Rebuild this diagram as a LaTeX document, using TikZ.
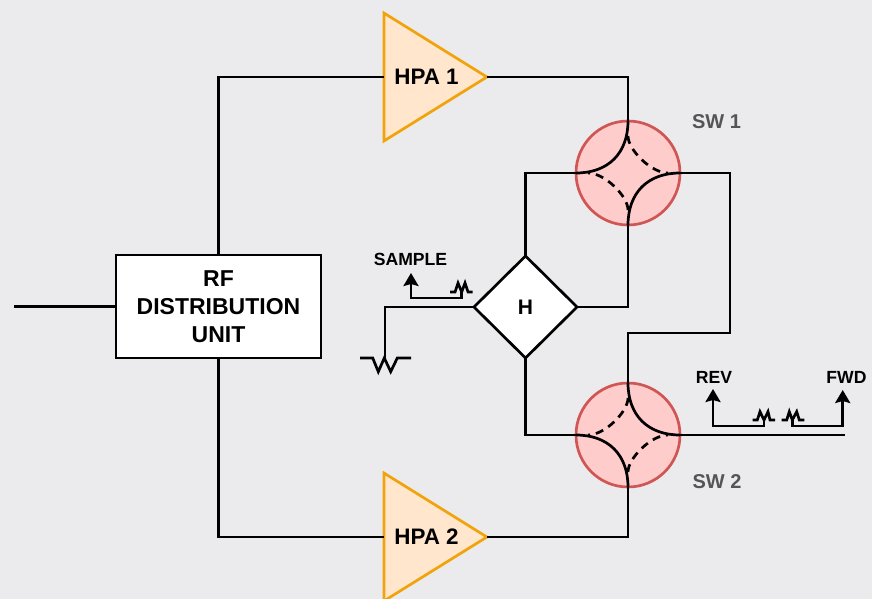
\documentclass[tikz,border=0pt]{standalone}
\usepackage{fontspec}
\setmainfont{Liberation Sans}
\usetikzlibrary{shapes.geometric,arrows.meta}
\definecolor{pagebg}{HTML}{EBEBEE}
\definecolor{hpafill}{HTML}{FFE6CC}
\definecolor{hpaline}{HTML}{F0A30A}
\definecolor{swfill}{HTML}{FFCCCC}
\definecolor{swline}{HTML}{D05555}
\definecolor{swtext}{HTML}{555555}
\tikzset{
  wire/.style={line width=2.7pt,line join=miter},
  tipwire/.style={wire,-{Stealth[length=13pt,width=15pt,inset=2pt]}},
  swarc/.style={wire,looseness=1.12},
  dashwire/.style={line width=2.7pt,dash pattern=on 8pt off 6pt,shorten >=12pt,shorten <=15pt},
  rfbox/.style={draw=black,fill=white,line width=2.7pt,minimum width=205pt,minimum height=103pt,
    inner sep=0pt,outer sep=0pt,align=center,font=\bfseries\fontsize{23}{28}\selectfont},
  hpatri/.style={draw=hpaline,fill=hpafill,line width=2.7pt,isosceles triangle,
    isosceles triangle apex angle=63.7,isosceles triangle stretches,
    minimum width=128pt,minimum height=103pt,inner sep=0pt,outer sep=0pt},
  swcircle/.style={circle,draw=swline,fill=swfill,line width=2.7pt,minimum size=104pt,inner sep=0pt,outer sep=0pt},
  hybrid/.style={diamond,draw=black,fill=white,line width=2.7pt,minimum width=103pt,minimum height=102pt,
    inner sep=0pt,outer sep=0pt,font=\bfseries\fontsize{21}{24}\selectfont},
  hpalbl/.style={font=\bfseries\fontsize{22.4}{24}\selectfont},
  smalllbl/.style={font=\bfseries\fontsize{17.6}{18}\selectfont},
  swlbl/.style={text=swtext,font=\bfseries\fontsize{20}{22}\selectfont},
}
\begin{document}
\begin{tikzpicture}[x=1pt,y=-1pt]
  \useasboundingbox[fill=pagebg] (0,0) rectangle (872,599);

  \node[rfbox] (rfunit) at (218.5,306.5) {RF\\DISTRIBUTION\\UNIT};
  \node[hpatri] (hpa1) at (419.5,77) {};
  \node[hpatri] (hpa2) at (419.5,537) {};
  \node[hpalbl] (hpa1txt) at (426.5,77) {HPA 1};
  \node[hpalbl] (hpa2txt) at (426.5,537) {HPA 2};
  \node[swcircle] (sw1) at (628,173) {};
  \node[swcircle] (sw2) at (628,435) {};
  \node[hybrid] (hyb) at (525.5,307) {H};

  \coordinate (rfin) at (14,306.5);
  \coordinate (swout) at (845,435);
  \coordinate (loadtop) at (385,358);

  % main path
  \draw[wire] (rfin) -- (rfunit.west);
  \draw[wire] (rfunit.north) |- (hpa1.lower side);
  \draw[wire] (rfunit.south) |- (hpa2.lower side);
  \draw[wire] (hpa1.apex) -| (sw1.north);
  \draw[wire] (hpa2.apex) -| (sw2.south);
  \draw[wire] (sw1.west) -| (hyb.north);
  \draw[wire] (hyb.east) -| (sw1.south);
  \draw[wire] (hyb.south) |- (sw2.west);
  \draw[wire] (sw1.east) -- (730,173) -- (730,333) -- (628,333) -- (sw2.north);
  \draw[wire] (sw2.east) -- (swout);

  % inside the switches
  \draw[swarc] (sw1.north) to[out=-90,in=0] (sw1.west);
  \draw[swarc] (sw1.east) to[out=180,in=90] (sw1.south);
  \draw[dashwire] (sw1.north) to[out=-90,in=180] (sw1.east);
  \draw[dashwire] (sw1.south) to[out=90,in=0] (sw1.west);
  \draw[swarc] (sw2.north) to[out=-90,in=180] (sw2.east);
  \draw[swarc] (sw2.west) to[out=0,in=90] (sw2.south);
  \draw[dashwire] (sw2.north) to[out=-90,in=0] (sw2.west);
  \draw[dashwire] (sw2.south) to[out=90,in=180] (sw2.east);

  % load
  \draw[wire] (hyb.west) -| (loadtop);
  \draw[wire] (360,358) -- (372.7,358) -- (378.3,371.7) -- (384.3,358) -- (390.7,371.7) -- (397.3,358) -- (411,358);

  % couplers
  \node[smalllbl] (samplelbl) at (410.5,259) {SAMPLE};
  \node[smalllbl] (revlbl) at (714,377) {REV};
  \node[smalllbl] (fwdlbl) at (846.5,377) {FWD};
  \coordinate (sampletip) at (411,273);
  \coordinate (revtip) at (713,389);
  \coordinate (fwdtip) at (842.7,390);

  \draw[tipwire] (461.7,292) -- (461.7,298) -- (411,298) -- (sampletip);
  \draw[wire] (450,292) -- (455,292) -- (458,283) -- (461.7,292) -- (465,283) -- (468,292) -- (472.7,292);

  \draw[tipwire] (764,420) -- (764,426) -- (713,426) -- (revtip);
  \draw[wire] (752.7,420) -- (757.3,420) -- (760,411.7) -- (764,420) -- (768,411.7) -- (770,420) -- (775,420);

  \draw[tipwire] (792.3,420) -- (792.3,426) -- (842.7,426) -- (fwdtip);
  \draw[wire] (781.7,420) -- (786.7,420) -- (789.3,411.7) -- (792.3,420) -- (796.7,411.7) -- (799.3,420) -- (804.3,420);

  \node[swlbl] (sw1lbl) at (716.5,121.5) {SW 1};
  \node[swlbl] (sw2lbl) at (717,481.5) {SW 2};
\end{tikzpicture}
\end{document}
